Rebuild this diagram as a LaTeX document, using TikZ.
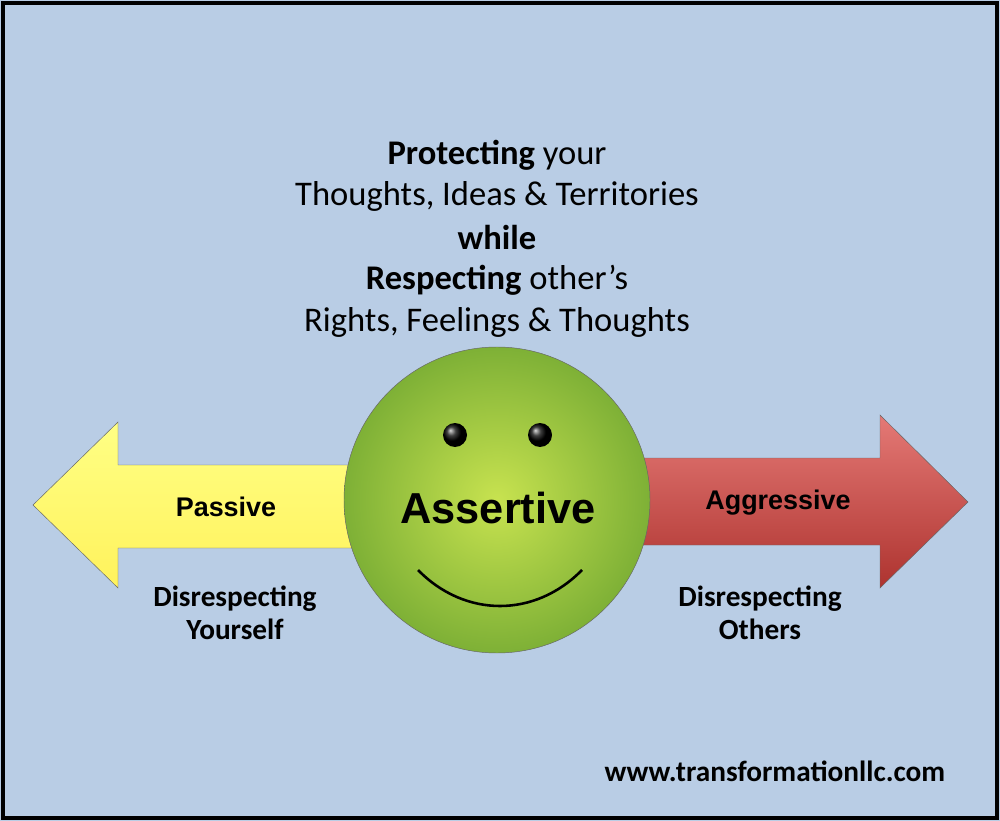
\documentclass[tikz,border=0pt]{standalone}
\usepackage{fontspec}
\setmainfont{Carlito}
\newfontfamily\arialfont{Liberation Sans}
\definecolor{bgblue}{HTML}{B9CDE5}
\definecolor{passiveyel}{HTML}{FFFF66}
\definecolor{aggred}{HTML}{D9403B}
\definecolor{facegreen}{HTML}{8CC43C}
\tikzset{
  headline/.style={font=\fontsize{29.5}{34}\selectfont},
  arrowlabel/.style={font=\arialfont\bfseries\fontsize{23}{27}\selectfont},
  sublabel/.style={font=\bfseries\fontsize{25}{30}\selectfont, align=center}
}
\begin{document}
\begin{tikzpicture}[x=0.03cm, y=-0.03cm]

  % frame and background
  \fill[bgblue] (0,0) rectangle (1000,821);
  \draw[line width=4pt] (3,3) rectangle (997,818);
  \useasboundingbox (0,0) rectangle (1000,821);

  % left arrow
  \draw[draw=black!60, top color=passiveyel!80!white, bottom color=passiveyel!90!orange]
    (33,505) -- (118,422) -- (118,465) -- (380,465) -- (380,548)
    -- (118,548) -- (118,588) -- cycle;

  % right arrow
  \draw[draw=black!60, top color=aggred!70!white, bottom color=aggred!80!black]
    (968,502) -- (880,415) -- (880,458) -- (610,458) -- (610,545)
    -- (880,545) -- (880,588) -- cycle;

  % face
  \node[circle, minimum size=306*0.03cm, draw=black!60, inner color=facegreen!60!yellow!80!white,
        outer color=facegreen!90!black] (face) at (497,500) {};
  \foreach \ex in {455,540}
    \shade[ball color=black] (\ex,435) circle (12);
  \draw[line width=2.2pt] (418,570) .. controls (465,618) and (535,618) .. (582,570);
  \node[font=\arialfont\bfseries\fontsize{37}{40}\selectfont] (assertive) at (498,508) {Assertive};

  % arrow labels
  \node[arrowlabel] (passive) at (226,507) {Passive};
  \node[arrowlabel] (aggressive) at (778,503) {Aggressive};
  \node[sublabel] (yourself) at (235,613) {Disrespecting\\[-2pt]Yourself};
  \node[sublabel] (others) at (760,613) {Disrespecting\\[-2pt]Others};

  % headline
  \node[headline] (l1) at (497,155) {\textbf{Protecting} your};
  \node[headline] (l2) at (497,196) {Thoughts, Ideas \& Territories};
  \node[headline] (l3) at (497,238) {\textbf{while}};
  \node[headline] (l4) at (497,280) {\textbf{Respecting} other’s};
  \node[headline] (l5) at (497,322) {Rights, Feelings \& Thoughts};

  \node[font=\bfseries\fontsize{25}{29}\selectfont] (url) at (775,771) {www.transformationllc.com};
\end{tikzpicture}
\end{document}
